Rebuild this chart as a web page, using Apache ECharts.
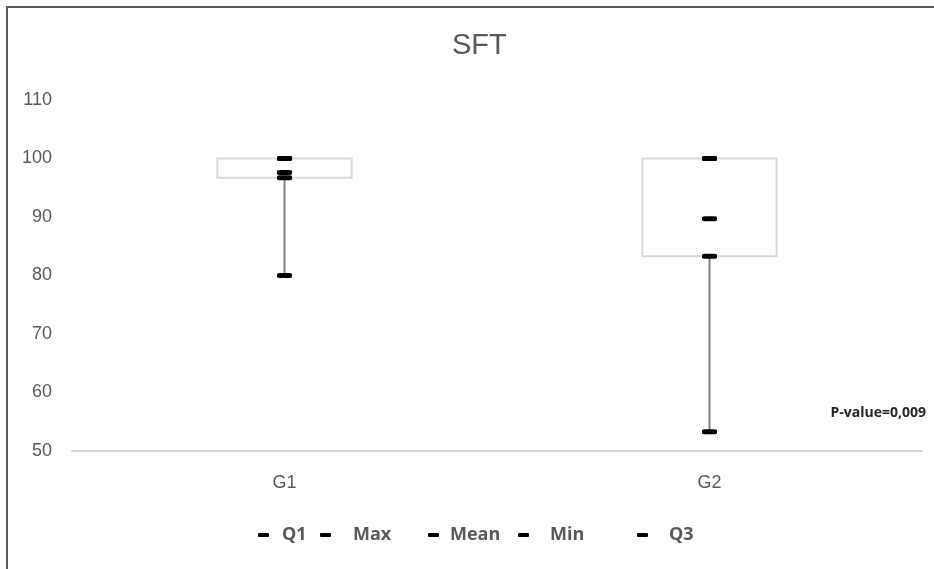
<!DOCTYPE html>
<html>
<head>
<meta charset="utf-8">
<style>
  html, body { margin: 0; padding: 0; background: #fff; }
  #chart { width: 934px; height: 569px; }
</style>
<script src="https://cdn.jsdelivr.net/npm/echarts@6/dist/echarts.min.js"></script>
</head>
<body>
<div id="chart"></div>
<script>
// SFT scores per group
const categories = ['G1', 'G2'];
const q1Values   = [96.7, 83.3];
const maxValues  = [100, 100];
const meanValues = [97.6, 89.7];
const minValues  = [80, 53.3];
const q3Values   = [100, 100];
const yTicks = { min: 50, max: 110, interval: 10 };
const pValueText = 'P-value=0,009';

const chart = echarts.init(document.getElementById('chart'));

const axisFont = 'Liberation Sans, Arial, sans-serif';
const legendFont = '"Open Sans", "Noto Sans", sans-serif';
const textGray = '#595959';

// Box spans Q1..Q3, the whisker runs from Q1 down to the minimum.
function renderBox(params, api) {
  const i = api.value(0);
  const q1 = api.value(1), q3 = api.value(2), mn = api.value(3);
  const top = api.coord([i, q3]);
  const bot = api.coord([i, q1]);
  const low = api.coord([i, mn]);
  const bw = api.size([1, 0])[0] * 0.316;
  return {
    type: 'group',
    children: [
      {
        type: 'line',
        shape: { x1: bot[0], y1: bot[1], x2: low[0], y2: low[1] },
        style: { stroke: '#7f7f7f', lineWidth: 2 }
      },
      {
        type: 'rect',
        shape: { x: top[0] - bw / 2, y: top[1], width: bw, height: bot[1] - top[1] },
        style: { fill: '#ffffff', stroke: '#d9d9d9', lineWidth: 2 }
      }
    ]
  };
}

const markerSymbol = 'roundRect';
function markerSeries(name, values) {
  return {
    name: name,
    type: 'scatter',
    data: values.map((v, i) => [i, v]),
    symbol: markerSymbol,
    symbolSize: [15, 5],
    itemStyle: { color: '#000000', opacity: 1 },
    z: 5,
    silent: true
  };
}

const legendNames = ['Q1', 'Max', 'Mean', 'Min', 'Q3'];
const legendLefts = [253, 315, 423, 513, 632];
const legendTextPad = [8, 17, 6, 16, 16];

const legends = legendNames.map((n, k) => ({
  data: [n],
  left: legendLefts[k],
  top: 521,
  itemWidth: 11,
  itemHeight: 4,
  icon: markerSymbol,
  selectedMode: false,
  textStyle: {
    color: textGray,
    fontSize: 18,
    fontWeight: 'bold',
    fontFamily: legendFont,
    padding: [0, 0, 0, legendTextPad[k]]
  }
}));

const option = {
  backgroundColor: '#ffffff',
  animation: false,
  title: {
    text: 'SFT',
    left: 447,
    top: 26,
    textStyle: { color: textGray, fontSize: 29, fontWeight: 'normal', fontFamily: axisFont }
  },
  legend: legends,
  grid: { left: 72, right: 12, top: 100, bottom: 118 },
  xAxis: {
    type: 'category',
    data: categories,
    axisLine: { lineStyle: { color: '#d9d9d9', width: 2 } },
    axisTick: { show: false },
    axisLabel: { color: textGray, fontSize: 18, fontFamily: axisFont, margin: 23 }
  },
  yAxis: {
    type: 'value',
    min: yTicks.min,
    max: yTicks.max,
    interval: yTicks.interval,
    axisLine: { show: false },
    axisTick: { show: false },
    splitLine: { show: false },
    axisLabel: { color: textGray, fontSize: 18, fontFamily: axisFont, margin: 20 }
  },
  series: [
    {
      name: 'box',
      type: 'custom',
      renderItem: renderBox,
      data: categories.map((c, i) => [i, q1Values[i], q3Values[i], minValues[i]]),
      z: 2,
      silent: true
    },
    markerSeries('Q1', q1Values),
    markerSeries('Max', maxValues),
    markerSeries('Mean', meanValues),
    markerSeries('Min', minValues),
    markerSeries('Q3', q3Values)
  ],
  graphic: [
    {
      type: 'text',
      right: 8,
      top: 406,
      style: { text: pValueText, fill: '#262626', font: 'bold 14px ' + legendFont }
    },
    {
      type: 'line',
      shape: { x1: 7, y1: 7, x2: 7, y2: 569 },
      style: { stroke: '#595959', lineWidth: 2 }
    },
    {
      type: 'line',
      shape: { x1: 6, y1: 7, x2: 934, y2: 7 },
      style: { stroke: '#595959', lineWidth: 2 }
    }
  ]
};

chart.setOption(option);
</script>
</body>
</html>
